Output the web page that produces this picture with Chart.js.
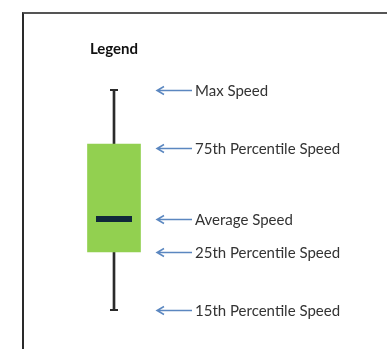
<!DOCTYPE html>
<html>
<head>
<meta charset="utf-8">
<script src="https://cdn.jsdelivr.net/npm/chart.js@4/dist/chart.umd.min.js"></script>
<style>
  body { margin:0; background:#fff; }
  #wrap { position:relative; width:387px; height:349px; overflow:hidden; }
  #frame { position:absolute; left:22px; top:12px; width:400px; height:400px;
           border-left:2px solid #2a2a2a; border-top:2px solid #555; }
  canvas { position:absolute; left:0; top:0; }
</style>
</head>
<body>
<div id="wrap">
  <div id="frame"></div>
  <canvas id="c" width="387" height="349"></canvas>
</div>
<script>
// legend box - speed values (arbitrary units)
var categories = ["Legend"];
var maxSpeed = [60];
var p75Speed = [46.5];
var avgSpeed = [27.75];
var p25Speed = [19.5];
var p15Speed = [5];

// labels pointed at by the arrows
var labelNames = ["Max Speed", "75th Percentile Speed", "Average Speed", "25th Percentile Speed", "15th Percentile Speed"];
var labelValues = [maxSpeed[0], p75Speed[0] - 1, avgSpeed[0], p25Speed[0], p15Speed[0]];

// arrows + labels to the right of the box
var arrowPlugin = {
  id: "arrows",
  afterDraw: function(chart){
    var ctx = chart.ctx;
    var y = chart.scales.y;
    ctx.save();
    for (var i=0; i<labelNames.length; i++){
      var py = Math.round(y.getPixelForValue(labelValues[i])) + 0.5;
      ctx.strokeStyle = "#5b87c0";
      ctx.lineWidth = 1.5;
      ctx.beginPath();
      ctx.moveTo(157, py); ctx.lineTo(192, py);
      ctx.moveTo(164, py-4); ctx.lineTo(157, py); ctx.lineTo(164, py+4);
      ctx.stroke();
      ctx.fillStyle = "#333";
      ctx.font = "15px Lato, 'Open Sans', sans-serif";
      ctx.textBaseline = "middle";
      ctx.fillText(labelNames[i], 195, py + 1);
    }
    ctx.restore();
  }
};

var ctx = document.getElementById("c").getContext("2d");
var myChart = new Chart(ctx, {
  type: "bar",
  data: {
    labels: categories,
    datasets: [
      { // whisker
        data: [[p15Speed[0], maxSpeed[0]]],
        backgroundColor: "#2b2b2b",
        barThickness: 2,
        grouped: false,
        order: 3
      },
      { // 25th - 75th box
        data: [[p25Speed[0], p75Speed[0]]],
        backgroundColor: "#92d050",
        barThickness: 53,
        grouped: false,
        order: 2
      },
      { // caps
        type: "line",
        data: maxSpeed,
        showLine: false,
        pointStyle: "line",
        pointRadius: 4,
        borderWidth: 2,
        borderColor: "#2b2b2b",
        order: 1
      },
      {
        type: "line",
        data: p15Speed,
        showLine: false,
        pointStyle: "line",
        pointRadius: 4,
        borderWidth: 2,
        borderColor: "#2b2b2b",
        order: 1
      },
      { // average
        type: "line",
        data: avgSpeed,
        showLine: false,
        pointStyle: "line",
        pointRadius: 18,
        borderWidth: 6,
        borderColor: "#10283a",
        order: 0
      }
    ]
  },
  options: {
    responsive: false,
    animation: false,
    layout: { autoPadding: false, padding: { left: 60, right: 219, top: 40, bottom: 9 } },
    scales: {
      x: { display: false },
      y: { display: false, min: -2.5, max: 67.5 }
    },
    plugins: {
      legend: { display: false },
      tooltip: { enabled: false },
      title: {
        display: true,
        text: "Legend",
        color: "#111",
        font: { family: "Lato, 'Open Sans', sans-serif", size: 15, weight: "bold" },
        padding: { top: 0, bottom: 2 }
      }
    }
  },
  plugins: [arrowPlugin]
});
</script>
</body>
</html>
